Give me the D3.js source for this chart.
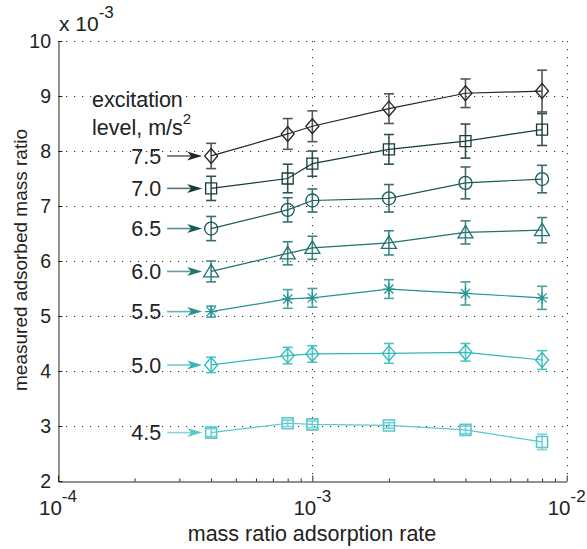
<!DOCTYPE html>
<html>
<head>
<meta charset="utf-8">
<script src="https://cdn.jsdelivr.net/npm/d3@7"></script>
<style>
  body { margin: 0; background: #fff; }
  svg { display: block; font-family: "Liberation Sans", Arial, sans-serif; }
</style>
</head>
<body>
<svg id="chart" width="587" height="549"></svg>
<script>
// adsorption rates (x) shared by all series
const rates = [4e-4, 8e-4, 1e-3, 2e-3, 4e-3, 8e-3];

// excitation levels, m/s^2
const levels = ['7.5', '7.0', '6.5', '6.0', '5.5', '5.0', '4.5'];

// measured adsorbed mass ratio, x 10^-3
const ratio75 = [7.91, 8.31, 8.45, 8.77, 9.05, 9.09];
const ratio70 = [7.32, 7.50, 7.77, 8.03, 8.18, 8.39];
const ratio65 = [6.59, 6.93, 7.10, 7.14, 7.42, 7.49];
const ratio60 = [5.81, 6.14, 6.24, 6.33, 6.52, 6.56];
const ratio55 = [5.08, 5.31, 5.33, 5.49, 5.41, 5.33];
const ratio50 = [4.11, 4.28, 4.31, 4.32, 4.34, 4.20];
const ratio45 = [2.88, 3.05, 3.03, 3.01, 2.93, 2.71];

// error bar half-lengths, x 10^-3
const err75 = [0.23, 0.28, 0.28, 0.27, 0.26, 0.38];
const err70 = [0.22, 0.26, 0.23, 0.27, 0.31, 0.29];
const err65 = [0.22, 0.22, 0.21, 0.25, 0.29, 0.25];
const err60 = [0.19, 0.21, 0.21, 0.22, 0.21, 0.23];
const err55 = [0.10, 0.17, 0.17, 0.17, 0.21, 0.21];
const err50 = [0.14, 0.15, 0.15, 0.18, 0.16, 0.17];
const err45 = [0.07, 0.06, 0.06, 0.05, 0.07, 0.14];

const yTicks = [2, 3, 4, 5, 6, 7, 8, 9, 10];
const xTicks = [1e-4, 1e-3, 1e-2];
const xTickExp = ['-4', '-3', '-2'];

const lineColors = ['#262626', '#173b3b', '#1a5a5a', '#1f7370', '#259492', '#2bbaba', '#5ac8cc'];
const barColors = ['#555555', '#35504f', '#3b6d6c', '#3e8683', '#45a3a0', '#4cc4c4', '#7ad2d5'];
const markers = ['diamond', 'square', 'circle', 'triangle', 'asterisk', 'diamond', 'square'];

const allRatios = [ratio75, ratio70, ratio65, ratio60, ratio55, ratio50, ratio45];
const allErrs = [err75, err70, err65, err60, err55, err50, err45];

const series = levels.map((lv, i) => ({
    level: lv,
    color: lineColors[i],
    barColor: barColors[i],
    marker: markers[i],
    points: rates.map((r, j) => ({ x: r, y: allRatios[i][j], e: allErrs[i][j] }))
}));

const svg = d3.select('#chart');
const plotL = 58, plotR = 566.7, plotT = 41, plotB = 481;

const xScale = d3.scaleLog().domain([1e-4, 1e-2]).range([plotL, plotR]);
const yScale = d3.scaleLinear().domain([2, 10]).range([plotB, plotT]);

// dotted grid
const grid = svg.append('g')
    .attr('stroke', '#333')
    .attr('stroke-width', 1)
    .attr('stroke-dasharray', '1.2,6.8');
grid.selectAll('line.h')
    .data(yTicks.filter(t => t > 2))
    .enter()
    .append('line')
    .attr('x1', plotL)
    .attr('x2', plotR)
    .attr('y1', d => Math.round(yScale(d)) + 0.5)
    .attr('y2', d => Math.round(yScale(d)) + 0.5);
grid.selectAll('line.v')
    .data(xTicks.slice(1))
    .enter()
    .append('line')
    .attr('x1', d => Math.round(xScale(d)) + 0.5)
    .attr('x2', d => Math.round(xScale(d)) + 0.5)
    .attr('y1', plotT)
    .attr('y2', plotB);

// axes
svg.append('g')
    .attr('transform', `translate(0, ${plotB + 0.5})`)
    .call(d3.axisBottom(xScale).tickValues(xTicks).tickSize(-6).tickSizeOuter(0).tickFormat(''))
    .call(g => g.selectAll('line, path').attr('stroke', '#222'));
const minor = [];
[1e-4, 1e-3].forEach(dec => { for (let k = 2; k <= 9; k++) minor.push(dec * k); });
svg.append('g')
    .attr('transform', `translate(0, ${plotB + 0.5})`)
    .call(d3.axisBottom(xScale).tickValues(minor).tickSize(-3).tickSizeOuter(0).tickFormat(''))
    .call(g => g.select('.domain').remove())
    .call(g => g.selectAll('line').attr('stroke', '#222'));
svg.append('g')
    .attr('transform', `translate(${plotL + 0.5}, 0)`)
    .call(d3.axisLeft(yScale).tickValues(yTicks).tickSize(-4).tickSizeOuter(0).tickFormat(''))
    .call(g => g.selectAll('line, path').attr('stroke', '#222'));

// tick labels
svg.append('g')
    .attr('font-size', 19.5)
    .attr('fill', '#222')
    .attr('text-anchor', 'end')
    .selectAll('text')
    .data(yTicks)
    .enter()
    .append('text')
    .attr('x', plotL - 7)
    .attr('y', d => yScale(d))
    .attr('dy', '0.36em')
    .text(d => d);

const xl = svg.append('g')
    .attr('font-size', 20.5)
    .attr('fill', '#222')
    .attr('text-anchor', 'middle')
    .selectAll('text')
    .data(xTicks)
    .enter()
    .append('text')
    .attr('x', d => xScale(d))
    .attr('y', 515);
xl.append('tspan').text('10');
xl.append('tspan').attr('font-size', 17).attr('dy', -13).text((d, i) => xTickExp[i]);

const expo = svg.append('text')
    .attr('x', 59)
    .attr('y', 31)
    .attr('font-size', 21)
    .attr('fill', '#222');
expo.append('tspan').text('x 10');
expo.append('tspan').attr('font-size', 17).attr('dy', -13).text('-3');

// axis titles
svg.append('text')
    .attr('x', 312)
    .attr('y', 541)
    .attr('text-anchor', 'middle')
    .attr('font-size', 21.5)
    .attr('fill', '#222')
    .text('mass ratio adsorption rate');
svg.append('text')
    .attr('transform', `translate(27, 260) rotate(-90)`)
    .attr('text-anchor', 'middle')
    .attr('font-size', 19)
    .attr('fill', '#222')
    .text('measured adsorbed mass ratio');

// legend heading
const head = svg.append('g').attr('font-size', 21.5).attr('fill', '#222');
head.append('text').attr('x', 92).attr('y', 107).text('excitation');
const lvl = head.append('text').attr('x', 92).attr('y', 135);
lvl.append('tspan').text('level, m/s');
lvl.append('tspan').attr('font-size', 15).attr('dy', -11).text('2');

// marker shapes
const markerPath = {
    diamond: 'M0,-7.5L6.5,0L0,7.5L-6.5,0Z',
    square: 'M-5.5,-5.5H5.5V5.5H-5.5Z',
    circle: 'M6.5,0A6.5,6.5 0 1 1 -6.5,0A6.5,6.5 0 1 1 6.5,0Z',
    triangle: 'M0,-7L7.5,5.5H-7.5Z',
    asterisk: 'M0,-6V6M-6,0H6M-4.5,-4.5L4.5,4.5M-4.5,4.5L4.5,-4.5'
};

const line = d3.line().x(d => xScale(d.x)).y(d => yScale(d.y));

const sg = svg.append('g')
    .selectAll('g')
    .data(series)
    .enter()
    .append('g');

// error bars
sg.each(function (s) {
    const g = d3.select(this).append('g')
        .attr('stroke', s.barColor)
        .attr('stroke-width', 1.6)
        .attr('fill', 'none');
    const eb = g.selectAll('g').data(s.points).enter().append('g');
    eb.append('line')
        .attr('x1', d => xScale(d.x)).attr('x2', d => xScale(d.x))
        .attr('y1', d => yScale(d.y - d.e)).attr('y2', d => yScale(d.y + d.e));
    eb.append('line')
        .attr('x1', d => xScale(d.x) - 5).attr('x2', d => xScale(d.x) + 5)
        .attr('y1', d => yScale(d.y - d.e)).attr('y2', d => yScale(d.y - d.e));
    eb.append('line')
        .attr('x1', d => xScale(d.x) - 5).attr('x2', d => xScale(d.x) + 5)
        .attr('y1', d => yScale(d.y + d.e)).attr('y2', d => yScale(d.y + d.e));
});

sg.append('path')
    .attr('d', s => line(s.points))
    .attr('fill', 'none')
    .attr('stroke', s => s.color)
    .attr('stroke-width', 1.2);

sg.each(function (s) {
    d3.select(this).selectAll('path.mk')
        .data(s.points)
        .enter()
        .append('path')
        .attr('class', 'mk')
        .attr('transform', d => `translate(${xScale(d.x)}, ${yScale(d.y)})`)
        .attr('d', markerPath[s.marker])
        .attr('fill', 'none')
        .attr('stroke', s.color)
        .attr('stroke-width', s.level === '4.5' ? 1.6 : 1.3);
});

// level labels with arrows pointing at the first point
sg.each(function (s) {
    const g = d3.select(this);
    const p = s.points[0];
    const tip = xScale(p.x) - 9;
    const yy = yScale(p.y);
    g.append('line')
        .attr('x1', tip - 35).attr('x2', tip - 8)
        .attr('y1', yy).attr('y2', yy)
        .attr('stroke', s.color)
        .attr('stroke-opacity', 0.7)
        .attr('stroke-width', 1.6);
    g.append('path')
        .attr('d', `M${tip},${yy}L${tip - 15},${yy - 4.5}L${tip - 11},${yy}L${tip - 15},${yy + 4.5}Z`)
        .attr('fill', s.color);
    g.append('text')
        .attr('x', tip - 41)
        .attr('y', yy)
        .attr('dy', '0.36em')
        .attr('text-anchor', 'end')
        .attr('font-size', 21.5)
        .attr('fill', '#222')
        .text(s.level);
});
</script>
</body>
</html>
